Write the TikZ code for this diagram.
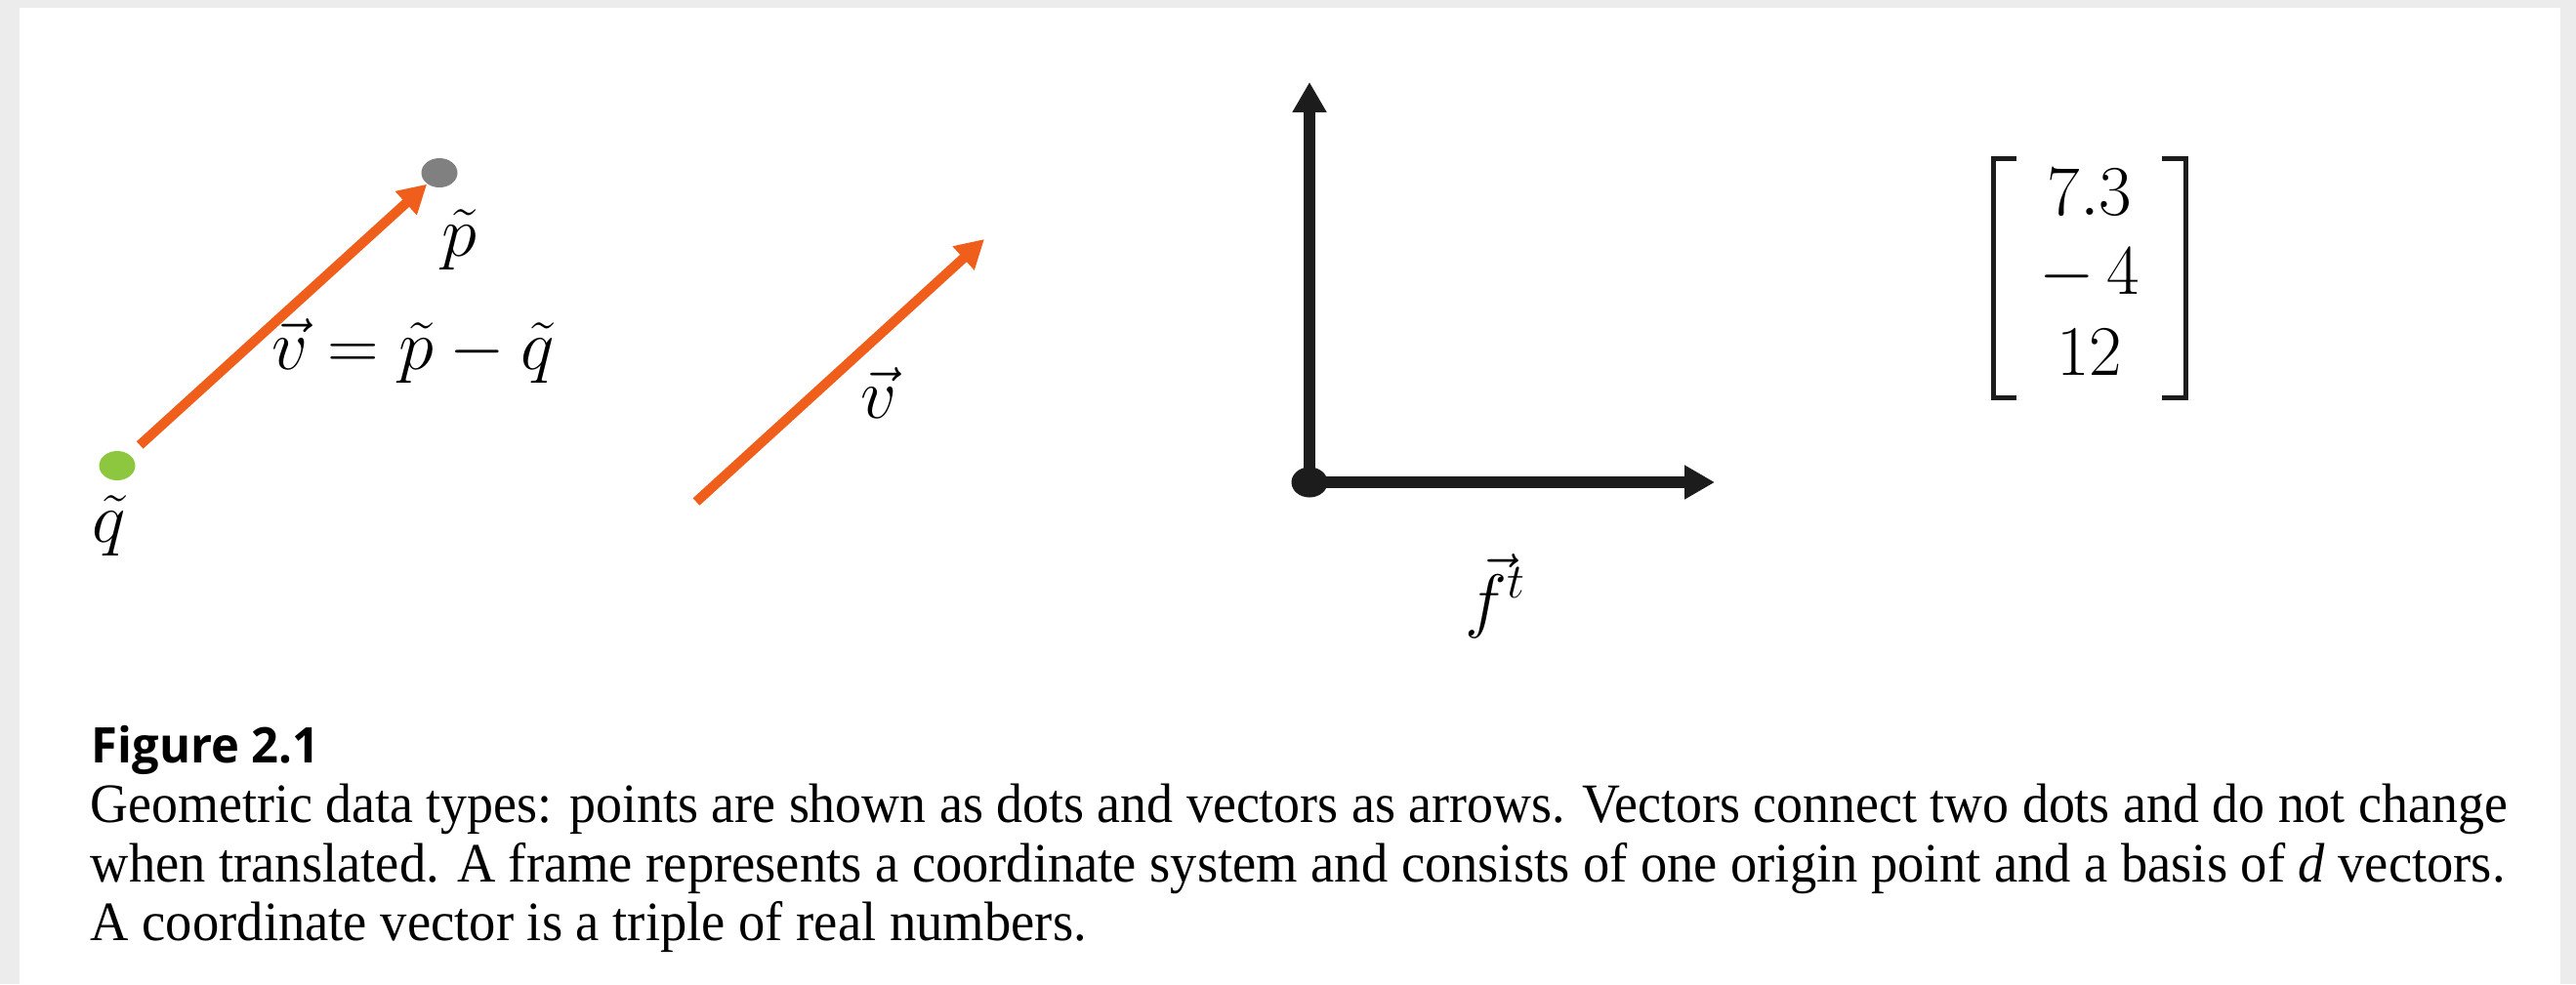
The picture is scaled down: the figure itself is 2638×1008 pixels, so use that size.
\documentclass[tikz,border=0pt]{standalone}
\usepackage{fontspec}
\usepackage{graphicx}
\newfontfamily\capserif{Liberation Serif}
\newfontfamily\capsans{Open Sans}
\usetikzlibrary{arrows.meta,shapes.geometric}

\definecolor{vecorange}{RGB}{240,94,28}
\definecolor{ptgreen}{RGB}{141,198,63}
\definecolor{ptgrey}{RGB}{128,128,128}
\definecolor{edgegrey}{RGB}{236,236,236}
\definecolor{axisblack}{RGB}{28,28,28}

\tikzset{
  ptdot/.style={ellipse, inner sep=0pt, minimum width=3.7mm, minimum height=3.0mm},
  vecarrow/.style={vecorange, line width=1mm, -{Triangle[length=2.9mm,width=3.1mm]}},
  axisarrow/.style={axisblack, line width=1.2mm, -{Triangle[length=3.1mm,width=3.3mm]}},
  bracket/.style={axisblack, line width=0.5mm},
  mathlabel/.style={inner sep=0pt, anchor=base, font=\huge},
  captext/.style={inner sep=0pt, anchor=base west},
}

\begin{document}
\begin{tikzpicture}[x=0.1mm, y=-0.1mm]
\useasboundingbox (0,0) rectangle (2638,1008);

% Page edges
\fill[edgegrey] (0,0) rectangle (2638,1008);
\fill[white] (20,8) rectangle (2622,1008);

% Two points and their difference
\node[ptdot, fill=ptgreen] (q) at (120,477) {};
\node[ptdot, fill=ptgrey] (p) at (450,177) {};
\draw[vecarrow, shorten <=1.4mm] (q) -- (p);

\node[mathlabel] (lblp) at (470,262) {$\tilde{p}$};
\node[mathlabel] (lblq) at (112,555) {$\tilde{q}$};
\node[mathlabel] (lbleq) at (423,378) {$\vec{v}=\tilde{p}-\tilde{q}$};

% Free vector
\coordinate (vtail) at (713,514);
\coordinate (vhead) at (1008,245);
\draw[vecarrow] (vtail) -- (vhead);

\node[mathlabel] (lblv) at (900,428) {$\vec{v}$};

% Frame
\coordinate (fx) at (1756,494);
\coordinate (fy) at (1341,84);
\node[ptdot, fill=axisblack, minimum height=3.1mm] (o) at (1341,494) {};
\draw[axisarrow] (o.center) -- (fy);
\draw[axisarrow] (o.center) -- (fx);

\node[mathlabel] (lblf) at (1532,639) {$\vec{f}^{t}$};

% Coordinate vector
\node[mathlabel] (m1) at (2140,220) {$7.3$};
\node[mathlabel] (m2) at (2140,301) {$-\,4$};
\node[mathlabel] (m3) at (2140,384) {$12$};

\draw[bracket] (2065,162) -- (2041,162) -- (2041,407) -- (2065,407);
\draw[bracket] (2214,162) -- (2238,162) -- (2238,407) -- (2214,407);

% Caption
\node[captext] (figno) at (93,781)
  {\resizebox{23.4mm}{\height}{\capsans\bfseries\fontsize{14.3}{16}\selectfont Figure 2.1}};
\node[captext] (cap1) at (92,842)
  {\resizebox{247.5mm}{\height}{\capserif\fontsize{16.2}{18}\selectfont Geometric data types: points are shown as dots and vectors as arrows. Vectors connect two dots and do not change}};
\node[captext] (cap2) at (92,903)
  {\resizebox{247.3mm}{\height}{\capserif\fontsize{16.2}{18}\selectfont when translated. A frame represents a coordinate system and consists of one origin point and a basis of \textit{d} vectors.}};
\node[captext] (cap3) at (92,963)
  {\resizebox{102mm}{\height}{\capserif\fontsize{16.2}{18}\selectfont A coordinate vector is a triple of real numbers.}};

\end{tikzpicture}
\end{document}
